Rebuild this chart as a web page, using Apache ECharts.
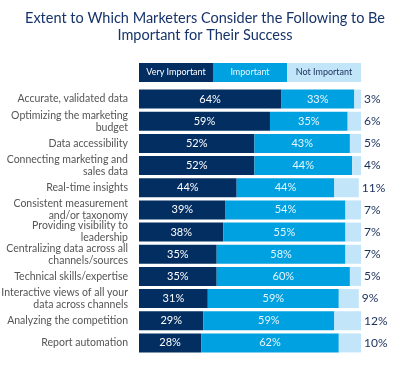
<!DOCTYPE html>
<html><head><meta charset="utf-8">
<script src="https://cdn.jsdelivr.net/npm/echarts@6/dist/echarts.min.js"></script>
<style>html,body{margin:0;padding:0;background:#fff}#c{width:410px;height:381px}</style>
</head><body><div id="c"></div>
<script>
const titleText = 'Extent to Which Marketers Consider the Following to Be\nImportant for Their Success';
const categories = [
  'Accurate, validated data',
  'Optimizing the marketing\nbudget',
  'Data accessibility',
  'Connecting marketing and\nsales data',
  'Real-time insights',
  'Consistent measurement\nand/or taxonomy',
  'Providing visibility to\nleadership',
  'Centralizing data across all\nchannels/sources',
  'Technical skills/expertise',
  'Interactive views of all your\ndata across channels',
  'Analyzing the competition',
  'Report automation'
];
const seriesNames = ['Very Important', 'Important', 'Not Important'];
const veryImportant = [64, 59, 52, 52, 44, 39, 38, 35, 35, 31, 29, 28];
const important = [33, 35, 43, 44, 44, 54, 55, 58, 60, 59, 59, 62];
const notImportant = [3, 6, 5, 4, 11, 7, 7, 7, 5, 9, 12, 10];

const colors = ['#032e61', '#00a1e0', '#c2e5fa'];
const font = 'Lato';
const gridLeft = 139, gridRight = 49, gridTop = 88, gridBottom = 27;
const plotW = 410 - gridLeft - gridRight;
const segW = plotW / 3;

const chart = echarts.init(document.getElementById('c'), null, {renderer: 'canvas'});
const legendGraphics = [];
seriesNames.forEach((n, i) => {
  legendGraphics.push({type: 'rect', left: gridLeft + i * segW, top: 63, shape: {width: segW, height: 19}, style: {fill: colors[i]}});
  legendGraphics.push({type: 'text', x: gridLeft + i * segW + segW / 2, y: 72.5, style: {text: n, fill: i === 0 ? '#ffffff' : (i === 1 ? '#e6f6ff' : '#1a2f5a'), font: '9px ' + font, align: 'center', verticalAlign: 'middle'}});
});

function bar(name, data, idx, labelColor) {
  return {
    name, type: 'bar', stack: 't', data, barWidth: 19,
    itemStyle: {color: colors[idx]},
    label: {show: true, position: 'inside', formatter: p => p.value + '%', color: labelColor, fontFamily: font, fontSize: 11},
    emphasis: {disabled: true}
  };
}

chart.setOption({
  animation: false,
  textStyle: {fontFamily: font},
  title: {text: titleText, left: 'center', top: 5, textStyle: {fontFamily: font, fontSize: 14.5, fontWeight: 'normal', color: '#16336a', lineHeight: 17}},
  grid: {left: gridLeft, right: gridRight, top: gridTop, bottom: gridBottom, containLabel: false, outerBoundsMode: 'none'},
  xAxis: {type: 'value', min: 0, max: 100, show: false},
  yAxis: {type: 'category', data: categories, inverse: true,
    axisLine: {show: false}, axisTick: {show: false}, splitLine: {show: false},
    axisLabel: {fontFamily: font, fontSize: 10.5, color: '#555555', margin: 11, lineHeight: 12, align: 'right'}},
  graphic: legendGraphics,
  series: [
    bar(seriesNames[0], veryImportant, 0, '#ffffff'),
    bar(seriesNames[1], important, 1, '#e6f6ff'),
    Object.assign(bar(seriesNames[2], notImportant, 2, '#1a2f5a'), {
      label: {show: true, position: 'right', distance: 3, formatter: p => p.value + '%', color: '#1a2f5a', fontFamily: font, fontSize: 12}
    })
  ]
});
</script></body></html>
